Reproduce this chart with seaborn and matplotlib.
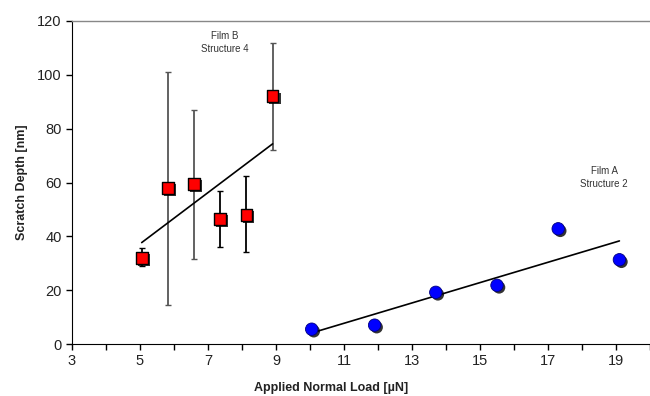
import numpy as np
import pandas as pd
import matplotlib
matplotlib.use("Agg")
import matplotlib.pyplot as plt
import matplotlib.patheffects as pe
from matplotlib.ticker import MultipleLocator
import seaborn as sns

# Film B (structure 4) - red squares with error bars
load_b = [5.05, 5.82, 6.58, 7.36, 8.13, 8.90]
depth_b = [32.0, 58.0, 59.5, 46.5, 48.0, 92.0]
err_low_b = [3.0, 43.5, 28.0, 10.5, 14.0, 20.0]
err_high_b = [3.5, 43.0, 27.5, 10.5, 14.5, 20.0]

# Film A (structure 2) - blue circles
load_a = [10.05, 11.9, 13.7, 15.5, 17.3, 19.1]
depth_a = [5.5, 7.0, 19.2, 21.8, 42.8, 31.3]

x_ticks = [3, 5, 7, 9, 11, 13, 15, 17, 19]

df_b = pd.DataFrame({"load": load_b, "depth": depth_b})
df_a = pd.DataFrame({"load": load_a, "depth": depth_a})

sns.set_style("white")
plt.rcParams["font.family"] = ["Liberation Sans", "DejaVu Sans"]

fig = plt.figure(figsize=(6.5, 3.96), dpi=100)
ax = fig.add_axes([72 / 650, 52 / 396, 612 / 650, 323 / 396])

# error bars (some drawn gray, some black, as in the original)
bar_colors = ["black", "#555555", "#555555", "black", "black", "#555555"]
for i in range(len(load_b)):
    ax.errorbar(load_b[i], depth_b[i],
                yerr=[[err_low_b[i]], [err_high_b[i]]],
                fmt="none", ecolor=bar_colors[i], elinewidth=1.3,
                capsize=2.5, capthick=1.0, zorder=2)

# least-squares trend lines
sns.regplot(data=df_b, x="load", y="depth", scatter=False, ci=None,
            color="black", line_kws={"lw": 1.2, "zorder": 3}, ax=ax)
sns.regplot(data=df_a, x="load", y="depth", scatter=False, ci=None,
            color="black", line_kws={"lw": 1.2, "zorder": 3}, ax=ax)

shadow = [pe.SimplePatchShadow(offset=(1.5, -1.5), shadow_rgbFace="black", alpha=0.8),
          pe.Normal()]

sns.scatterplot(data=df_b, x="load", y="depth", marker="s", s=72,
                color="#ff0000", edgecolor="black", linewidth=1.0,
                zorder=4, ax=ax)
sns.scatterplot(data=df_a, x="load", y="depth", marker="o", s=80,
                color="#0000ff", edgecolor="#000080", linewidth=0.6,
                zorder=4, ax=ax)
for coll in ax.collections:
    coll.set_path_effects(shadow)

ax.text(7.5, 112, "Film B\nStructure 4", ha="center", va="center",
        fontsize=7, color="#333333", linespacing=1.4)
ax.text(18.65, 62, "Film A\nStructure 2", ha="center", va="center",
        fontsize=7, color="#333333", linespacing=1.4)

ax.set_xlim(3, 21)
ax.set_ylim(0, 120)
ax.set_xticks(x_ticks)
ax.xaxis.set_minor_locator(MultipleLocator(1))
ax.yaxis.set_major_locator(MultipleLocator(20))

ax.tick_params(axis="both", which="major", direction="out", length=4,
               width=1, color="black", labelsize=10.5, labelcolor="#222222",
               bottom=True, left=True)
ax.tick_params(axis="x", which="minor", direction="out", length=4,
               width=1, color="black", bottom=True)

ax.spines["right"].set_visible(False)
ax.spines["top"].set_color("#888888")
ax.spines["top"].set_linewidth(1.0)
ax.spines["left"].set_color("black")
ax.spines["bottom"].set_color("black")

ax.set_xlabel("Applied Normal Load [\u00b5N]", fontsize=9, fontweight="bold",
              color="#222222")
ax.set_ylabel("Scratch Depth [nm]", fontsize=9, fontweight="bold",
              color="#222222")
ax.xaxis.set_label_coords((331 - 72) / 612, -0.118)
ax.yaxis.set_label_coords(-0.072, 0.5)

fig.savefig("out.png", dpi=100)
